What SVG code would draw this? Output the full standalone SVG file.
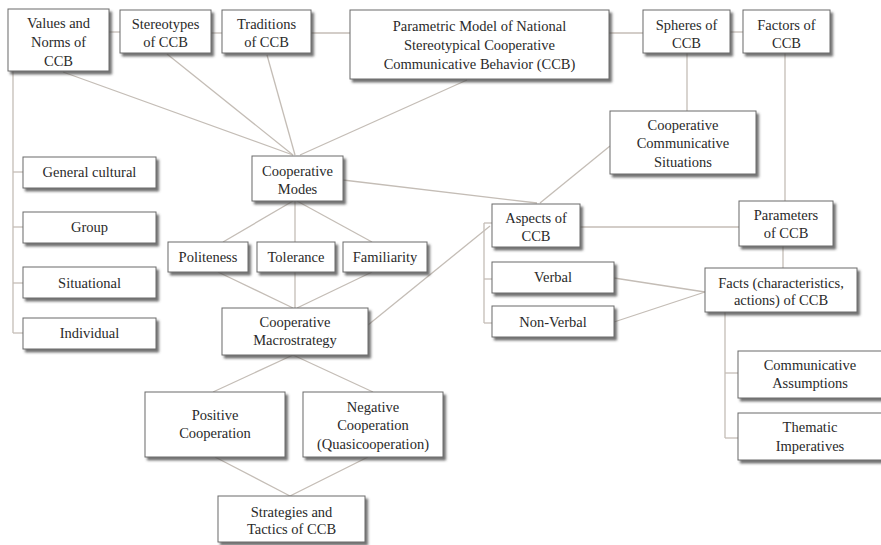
<svg xmlns="http://www.w3.org/2000/svg" width="881" height="545" viewBox="0 0 881 545">
<defs>
<filter id="sh" x="-10%" y="-10%" width="130%" height="140%">
<feDropShadow dx="2.5" dy="3" stdDeviation="1.3" flood-color="#444" flood-opacity="0.75"/>
</filter>
<style>
.b{fill:#fff;stroke:#6a6a6a;stroke-width:1;filter:url(#sh)}
.t{font-family:"Liberation Serif","Times New Roman",serif;font-size:14.5px;fill:#2a2a2a;text-anchor:middle}
.c line,.c polyline{stroke:#c4bdb6;stroke-width:1.3;fill:none}
</style>
</defs>
<rect width="881" height="545" fill="#fff"/>
<g class="c" id="connectors">
<line x1="109" y1="32" x2="120" y2="32"/>
<line x1="211" y1="33" x2="222" y2="33"/>
<line x1="311" y1="33" x2="350" y2="33"/>
<line x1="609" y1="33" x2="643" y2="33"/>
<line x1="730" y1="32" x2="743" y2="32"/>
<line x1="687" y1="53" x2="687" y2="111"/>
<line x1="785" y1="53" x2="785" y2="201"/>
<line x1="13" y1="71" x2="13" y2="333"/>
<line x1="13" y1="172" x2="23" y2="172"/>
<line x1="13" y1="227" x2="23" y2="227"/>
<line x1="13" y1="283" x2="23" y2="283"/>
<line x1="13" y1="333" x2="23" y2="333"/>
<line x1="63" y1="72" x2="293" y2="155"/>
<line x1="167" y1="54" x2="293" y2="155"/>
<line x1="267" y1="55" x2="295" y2="155"/>
<line x1="467" y1="80" x2="300" y2="155"/>
<line x1="343" y1="180" x2="537" y2="203"/>
<line x1="293" y1="201" x2="223" y2="242"/>
<line x1="295" y1="201" x2="295" y2="242"/>
<line x1="297" y1="201" x2="372" y2="242"/>
<line x1="218" y1="272" x2="293" y2="308"/>
<line x1="295" y1="272" x2="295" y2="308"/>
<line x1="372" y1="272" x2="297" y2="308"/>
<line x1="368" y1="325" x2="490" y2="226"/>
<line x1="610" y1="146" x2="540" y2="203"/>
<line x1="580" y1="227" x2="739" y2="227"/>
<line x1="484" y1="223" x2="484" y2="323"/>
<line x1="484" y1="223" x2="492" y2="223"/>
<line x1="484" y1="279" x2="492" y2="279"/>
<line x1="484" y1="323" x2="492" y2="323"/>
<line x1="614" y1="278" x2="705" y2="292"/>
<line x1="614" y1="322" x2="705" y2="292"/>
<line x1="783" y1="246" x2="783" y2="268"/>
<line x1="725" y1="312" x2="725" y2="438"/>
<line x1="725" y1="373" x2="738" y2="373"/>
<line x1="725" y1="438" x2="738" y2="438"/>
<line x1="293" y1="355" x2="213" y2="392"/>
<line x1="293" y1="355" x2="373" y2="392"/>
<line x1="215" y1="457" x2="290" y2="496"/>
<line x1="368" y1="457" x2="290" y2="496"/>
</g>
<g id="values"><rect class="b" x="8" y="9" width="101" height="62"/><text class="t" x="58.5" y="28">Values and</text><text class="t" x="58.5" y="47">Norms of</text><text class="t" x="58.5" y="66">CCB</text></g>
<g id="stereotypes"><rect class="b" x="120" y="10" width="91" height="43"/><text class="t" x="165.5" y="29">Stereotypes</text><text class="t" x="165.5" y="47">of CCB</text></g>
<g id="traditions"><rect class="b" x="222" y="10" width="89" height="43"/><text class="t" x="266.5" y="29">Traditions</text><text class="t" x="266.5" y="47">of CCB</text></g>
<g id="parametric"><rect class="b" x="350" y="10" width="259" height="69"/><text class="t" x="479.5" y="31">Parametric Model of National</text><text class="t" x="479.5" y="50">Stereotypical Cooperative</text><text class="t" x="479.5" y="69">Communicative Behavior (CCB)</text></g>
<g id="spheres"><rect class="b" x="643" y="10" width="87" height="43"/><text class="t" x="686.5" y="30">Spheres of</text><text class="t" x="686.5" y="48">CCB</text></g>
<g id="factors"><rect class="b" x="743" y="10" width="87" height="43"/><text class="t" x="786.5" y="30">Factors of</text><text class="t" x="786.5" y="48">CCB</text></g>
<g id="situations"><rect class="b" x="610" y="111" width="146" height="63"/><text class="t" x="683" y="130">Cooperative</text><text class="t" x="683" y="148">Communicative</text><text class="t" x="683" y="167">Situations</text></g>
<g id="modes"><rect class="b" x="252" y="156" width="91" height="45"/><text class="t" x="297.5" y="176">Cooperative</text><text class="t" x="297.5" y="194">Modes</text></g>
<g id="general"><rect class="b" x="23" y="157" width="133" height="31"/><text class="t" x="89.5" y="177">General cultural</text></g>
<g id="group"><rect class="b" x="23" y="212" width="133" height="31"/><text class="t" x="89.5" y="232">Group</text></g>
<g id="situational"><rect class="b" x="23" y="267" width="133" height="31"/><text class="t" x="89.5" y="288">Situational</text></g>
<g id="individual"><rect class="b" x="23" y="318" width="133" height="31"/><text class="t" x="89.5" y="338">Individual</text></g>
<g id="politeness"><rect class="b" x="168" y="242" width="80" height="30"/><text class="t" x="208" y="262">Politeness</text></g>
<g id="tolerance"><rect class="b" x="257" y="242" width="78" height="30"/><text class="t" x="296" y="262">Tolerance</text></g>
<g id="familiarity"><rect class="b" x="343" y="242" width="84" height="30"/><text class="t" x="385" y="262">Familiarity</text></g>
<g id="macrostrategy"><rect class="b" x="222" y="308" width="146" height="47"/><text class="t" x="295" y="327">Cooperative</text><text class="t" x="295" y="345">Macrostrategy</text></g>
<g id="aspects"><rect class="b" x="492" y="204" width="88" height="43"/><text class="t" x="536" y="223">Aspects of</text><text class="t" x="536" y="241">CCB</text></g>
<g id="parameters"><rect class="b" x="739" y="201" width="94" height="45"/><text class="t" x="786" y="220">Parameters</text><text class="t" x="786" y="238">of CCB</text></g>
<g id="verbal"><rect class="b" x="492" y="262" width="122" height="31"/><text class="t" x="553" y="282">Verbal</text></g>
<g id="nonverbal"><rect class="b" x="492" y="306" width="122" height="31"/><text class="t" x="553" y="327">Non-Verbal</text></g>
<g id="facts"><rect class="b" x="705" y="268" width="152" height="44"/><text class="t" x="781" y="288">Facts (characteristics,</text><text class="t" x="781" y="305">actions) of CCB</text></g>
<g id="assumptions"><rect class="b" x="738" y="351" width="146" height="47"/><text class="t" x="810" y="370">Communicative</text><text class="t" x="810" y="388">Assumptions</text></g>
<g id="imperatives"><rect class="b" x="738" y="413" width="146" height="47"/><text class="t" x="810" y="432">Thematic</text><text class="t" x="810" y="451">Imperatives</text></g>
<g id="positive"><rect class="b" x="145" y="392" width="140" height="65"/><text class="t" x="215" y="420">Positive</text><text class="t" x="215" y="438">Cooperation</text></g>
<g id="negative"><rect class="b" x="303" y="392" width="140" height="65"/><text class="t" x="373" y="412">Negative</text><text class="t" x="373" y="430">Cooperation</text><text class="t" x="373" y="449">(Quasicooperation)</text></g>
<g id="strategies"><rect class="b" x="218" y="496" width="147" height="46"/><text class="t" x="291.5" y="517">Strategies and</text><text class="t" x="291.5" y="534">Tactics of CCB</text></g>
</svg>
